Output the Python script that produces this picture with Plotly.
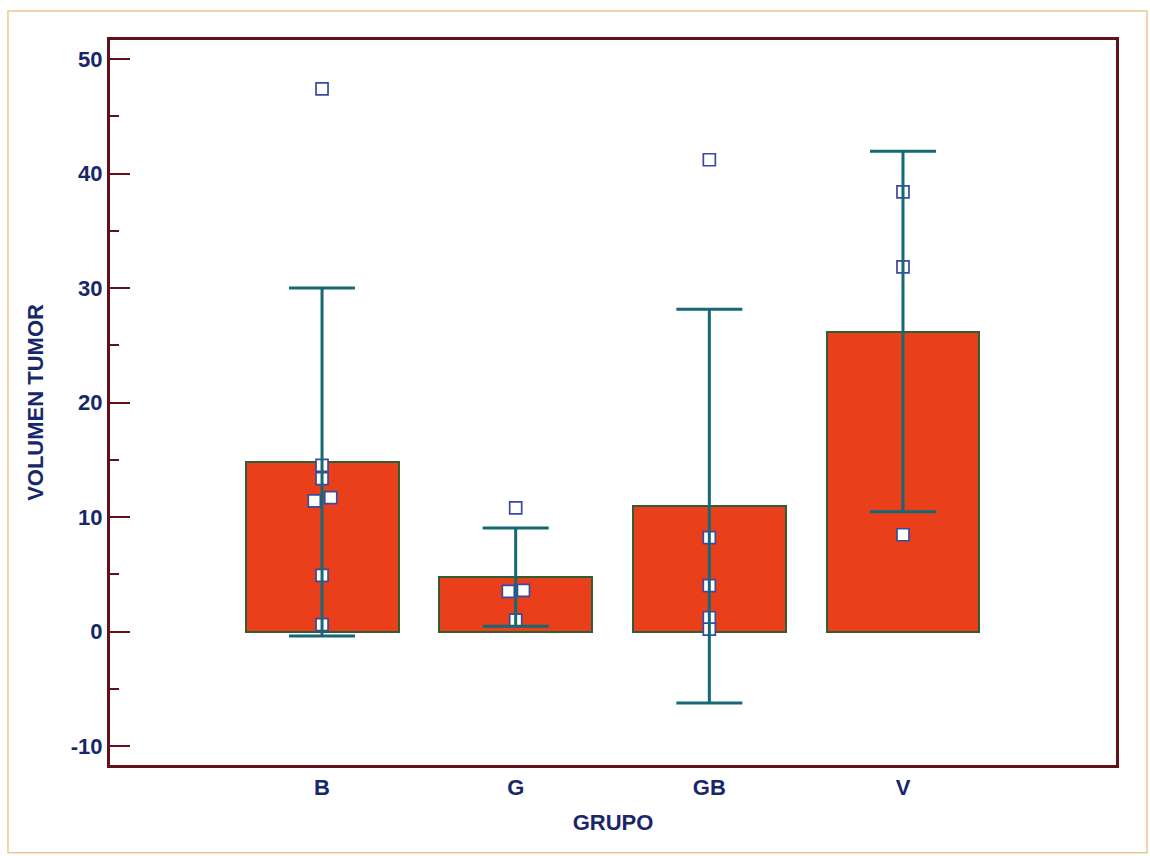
import plotly.graph_objects as go

# Groups and summary values (mean bar height, standard deviation whisker)
grupos = ["B", "G", "GB", "V"]
medias = [14.8, 4.75, 10.95, 26.2]
desv_est = [15.2, 4.3, 17.2, 15.75]

# Individual tumour volumes per group, with small horizontal offsets
# for points that would otherwise sit on top of each other
obs_grupo = [0, 0, 0, 0, 0, 0, 0,
             1, 1, 1, 1,
             2, 2, 2, 2, 2,
             3, 3, 3]
obs_valor = [47.4, 14.5, 13.35, 11.4, 11.7, 4.9, 0.6,
             10.8, 3.5, 3.6, 1.0,
             41.2, 8.2, 4.0, 1.2, 0.2,
             38.4, 31.85, 8.45]
obs_desplaz = [0, 0, 0, -0.04, 0.045, 0, 0,
               0, -0.038, 0.04, 0,
               0, 0, 0, 0, 0,
               0, 0, 0]

y_ticks = [-10, 0, 10, 20, 30, 40, 50]

NAVY = "#17276A"
FRAME = "#62101C"
BAR_FILL = "#E93F1B"
BAR_EDGE = "#2F5E33"
WHISKER = "#156874"
POINT_EDGE = "#3A4AA0"

x_pos = list(range(len(grupos)))
fig = go.Figure()

# Bars of the group means
fig.add_trace(go.Bar(
    x=x_pos, y=medias, width=0.79,
    marker=dict(color=BAR_FILL, line=dict(color=BAR_EDGE, width=2)),
    showlegend=False, hoverinfo="skip",
))

# Individual observations as open squares
fig.add_trace(go.Scatter(
    x=[g + d for g, d in zip(obs_grupo, obs_desplaz)], y=obs_valor,
    mode="markers",
    marker=dict(symbol="square", size=12, color="white",
                line=dict(color=POINT_EDGE, width=1.7)),
    showlegend=False,
))

# Standard deviation whiskers, drawn over the points
fig.add_trace(go.Scatter(
    x=x_pos, y=medias, mode="markers",
    marker=dict(size=0.1, color="rgba(0,0,0,0)"),
    error_y=dict(type="data", array=desv_est, visible=True,
                 color=WHISKER, thickness=3, width=33),
    showlegend=False, hoverinfo="skip",
))

# Thin outer page border
fig.add_shape(type="rect", xref="paper", yref="paper",
              x0=-0.1014, x1=1.0308, y0=-0.121, y1=1.04,
              line=dict(color="#F2C590", width=1.5), layer="below")

tick_font = dict(family="Liberation Sans, Arial, sans-serif", size=22, color=NAVY)
title_font = dict(family="Liberation Sans, Arial, sans-serif", size=22, color=NAVY)

fig.update_layout(
    width=1150, height=856,
    margin=dict(l=110, r=34, t=40, b=91),
    paper_bgcolor="white", plot_bgcolor="white",
    bargap=0,
    xaxis=dict(
        range=[-1.095, 4.10],
        tickvals=x_pos, ticktext=[f"<b>{g}</b>" for g in grupos],
        tickfont=tick_font, ticks="", ticklabelstandoff=1,
        showgrid=False, zeroline=False,
        showline=True, linecolor=FRAME, linewidth=3, mirror=True,
        title=dict(text="<b>GRUPO</b>", font=title_font, standoff=16),
    ),
    yaxis=dict(
        range=[-11.66, 51.66],
        tickvals=y_ticks, ticktext=[f"<b>{v}</b>" for v in y_ticks],
        tickfont=tick_font,
        ticks="inside", ticklen=20, tickwidth=2, tickcolor=FRAME,
        minor=dict(dtick=5, tick0=0, ticks="inside", ticklen=9,
                   tickwidth=2, tickcolor=FRAME),
        showgrid=False, zeroline=False,
        showline=True, linecolor=FRAME, linewidth=3, mirror=True,
        title=dict(text="<b>VOLUMEN TUMOR</b>", font=title_font, standoff=22),
    ),
)

fig.write_html("out.html")
